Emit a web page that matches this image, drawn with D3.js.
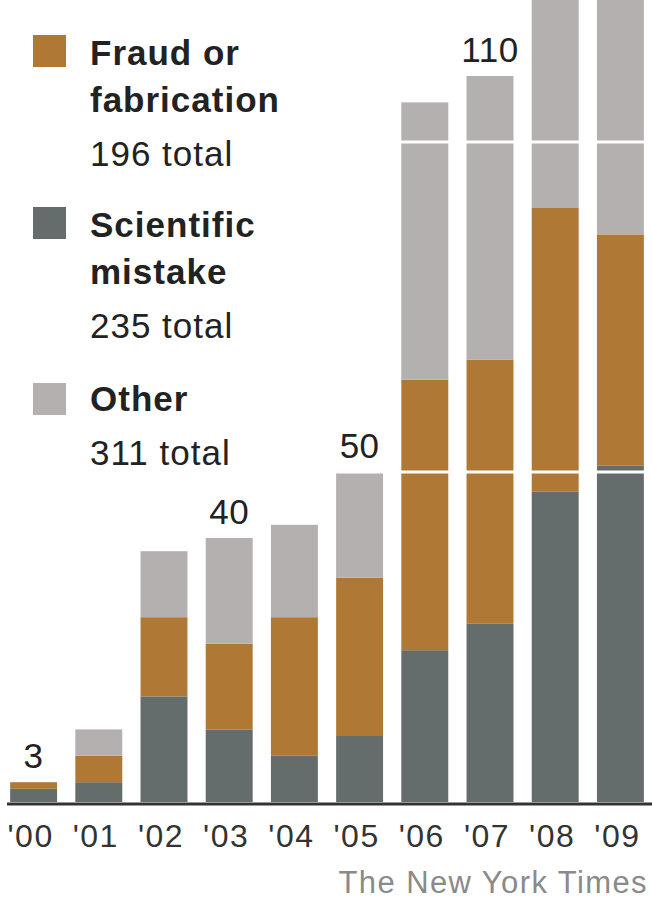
<!DOCTYPE html>
<html>
<head>
<meta charset="utf-8">
<script src="https://cdn.jsdelivr.net/npm/d3@7"></script>
<style>
  html, body { margin: 0; padding: 0; background: #fff; }
  svg { display: block; font-family: "Liberation Sans", Arial, sans-serif; }
</style>
</head>
<body>
<div id="chart-container"></div>
<script>
// retractions per year, stacked bottom -> top
const years = ["'00", "'01", "'02", "'03", "'04", "'05", "'06", "'07", "'08", "'09"];
const scientific = [2, 3, 16, 11, 7, 10, 23, 27, 47, 51];
const fraud = [1, 4, 12, 13, 21, 24, 41, 40, 43, 35];
const other = [0, 4, 10, 16, 14, 16, 42, 43, 84, 82];

// totals printed above some bars
const topLabels = ["3", "", "", "40", "", "50", "", "110", "", ""];

const legendItems = [
  { color: "#b07835", lines: ["Fraud or", "fabrication"], total: "196 total" },
  { color: "#656d6c", lines: ["Scientific", "mistake"], total: "235 total" },
  { color: "#b3b0af", lines: ["Other"], total: "311 total" }
];

const gridValues = [50, 100];

const width = 652, height = 899;

const svg = d3.select("#chart-container")
  .append("svg")
  .attr("width", width)
  .attr("height", height);

const x = d3.scaleBand()
  .domain(years)
  .range([1, 653])
  .paddingInner(0.28)
  .paddingOuter(0.14);

// fixed scale: chart is cropped at the top, big bars run off
const y = d3.scaleLinear()
  .domain([0, 100])
  .range([802, 142]);

const rows = years.map((yr, i) => ({ year: yr, scientific: scientific[i], fraud: fraud[i], other: other[i] }));
const keys = ["scientific", "fraud", "other"];
const colors = { scientific: "#656d6c", fraud: "#b07835", other: "#b3b0af" };

const stacked = d3.stack().keys(keys)(rows);

svg.append("g")
  .selectAll("g")
  .data(stacked)
  .join("g")
  .attr("fill", d => colors[d.key])
  .selectAll("rect")
  .data(d => d)
  .join("rect")
  .attr("x", d => x(d.data.year))
  .attr("width", x.bandwidth())
  .attr("y", d => y(d[1]))
  .attr("height", d => y(d[0]) - y(d[1]));

// white grid lines on top of bars
svg.append("g")
  .selectAll("line")
  .data(gridValues)
  .join("line")
  .attr("x1", 0)
  .attr("x2", width)
  .attr("y1", d => y(d))
  .attr("y2", d => y(d))
  .attr("stroke", "#fff")
  .attr("stroke-width", 3);

// total labels
svg.append("g")
  .selectAll("text")
  .data(rows.map((r, i) => ({ year: r.year, total: r.scientific + r.fraud + r.other, label: topLabels[i] })).filter(d => d.label))
  .join("text")
  .attr("x", d => x(d.year) + x.bandwidth() / 2)
  .attr("y", d => y(d.total) - 14)
  .attr("text-anchor", "middle")
  .attr("font-size", 35)
  .attr("letter-spacing", 0.5)
  .attr("fill", "#222")
  .text(d => d.label);

// baseline
svg.append("line")
  .attr("x1", 7)
  .attr("x2", width)
  .attr("y1", y(0) + 2)
  .attr("y2", y(0) + 2)
  .attr("stroke", "#333")
  .attr("stroke-width", 3);

// x axis labels
const xAxis = svg.append("g")
  .attr("transform", `translate(0,${y(0) + 2})`)
  .call(d3.axisBottom(x).tickSize(0).tickPadding(20));
xAxis.select(".domain").remove();
xAxis.selectAll("text")
  .attr("font-size", 32)
  .attr("letter-spacing", 1.5)
  .attr("font-family", "Liberation Sans, Arial, sans-serif")
  .attr("fill", "#333")
  .attr("dx", -3)
  .attr("dy", "0.72em");

// legend
const legendPos = [
  { sy: 35, ty: 65 },
  { sy: 207, ty: 237 },
  { sy: 383, ty: 411 }
];
const lineGap = 47;

legendItems.forEach((item, i) => {
  const p = legendPos[i];
  const g = svg.append("g");
  g.append("rect")
    .attr("x", 33)
    .attr("y", p.sy)
    .attr("width", 33)
    .attr("height", 32)
    .attr("fill", item.color);
  item.lines.forEach((ln, j) => {
    g.append("text")
      .attr("x", 90)
      .attr("y", p.ty + j * lineGap)
      .attr("font-size", 35)
      .attr("letter-spacing", 1)
      .attr("font-weight", "bold")
      .attr("fill", "#222")
      .text(ln);
  });
  g.append("text")
    .attr("x", 90)
    .attr("y", p.ty + item.lines.length * lineGap + 7)
    .attr("font-size", 35)
    .attr("letter-spacing", 1)
    .attr("fill", "#222")
    .text(item.total);
});

// credit
svg.append("text")
  .attr("x", 648)
  .attr("y", 893)
  .attr("text-anchor", "end")
  .attr("font-size", 31)
  .attr("letter-spacing", 1.4)
  .attr("fill", "#8a8a8a")
  .text("The New York Times");
</script>
</body>
</html>
